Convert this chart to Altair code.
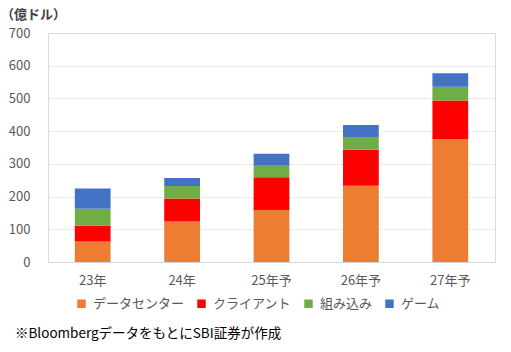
import altair as alt
import pandas as pd

years = ["23年", "24年", "25年予", "26年予", "27年予"]
segments = ["データセンター", "クライアント", "組み込み", "ゲーム"]
colors = ["#ED7D31", "#FF0000", "#70AD47", "#4472C4"]
datacenter = [63, 124, 159, 233, 376]
client = [48, 70, 100, 110, 118]
embedded = [52, 38, 35, 39, 42]
gaming = [62, 25, 37, 37, 41]
unit_label = "（億ドル）"
note = "※BloombergデータをもとにSBI証券が作成"

FONT = "Noto Sans CJK JP"

rows = []
for si, (seg, vals) in enumerate(zip(segments, [datacenter, client, embedded, gaming])):
    for y, v in zip(years, vals):
        rows.append({"year": y, "segment": seg, "value": v, "ord": si})
df = pd.DataFrame(rows)

bars = alt.Chart(df).mark_bar().encode(
    x=alt.X("year:N", sort=years, title=None,
            scale=alt.Scale(paddingInner=0.6, paddingOuter=0.3),
            axis=alt.Axis(labelAngle=0, ticks=False, labelPadding=12, domain=True,
                          domainColor="#D9D9D9", domainWidth=1, grid=False,
                          labelFontSize=13, labelColor="#595959", labelFont=FONT)),
    y=alt.Y("value:Q", stack="zero", title=None,
            scale=alt.Scale(domain=[0, 700], nice=False),
            axis=alt.Axis(values=[0, 100, 200, 300, 400, 500, 600, 700], ticks=False,
                          domain=False, labelPadding=18, grid=True, gridColor="#D9D9D9",
                          gridDash=[2, 2], labelFontSize=13, labelColor="#595959",
                          labelFont=FONT)),
    color=alt.Color("segment:N", sort=segments,
                    scale=alt.Scale(domain=segments, range=colors),
                    legend=alt.Legend(title=None, orient="none", direction="horizontal",
                                      columns=4, legendX=27, legendY=264,
                                      symbolType="square", symbolSize=72,
                                      symbolStrokeWidth=0, labelOffset=5,
                                      columnPadding=10, labelFontSize=13,
                                      labelColor="#595959", labelFont=FONT)),
    order=alt.Order("ord:Q", sort="ascending"),
)

unit = alt.Chart(pd.DataFrame({"t": [unit_label]})).mark_text(
    align="left", baseline="middle", fontSize=13, fontWeight="bold",
    color="#404040", font=FONT
).encode(x=alt.value(-47), y=alt.value(-18), text="t:N")

foot = alt.Chart(pd.DataFrame({"t": [note]})).mark_text(
    align="left", baseline="middle", fontSize=13.5, color="#000000", font=FONT
).encode(x=alt.value(-33), y=alt.value(301), text="t:N")

chart = alt.layer(bars, unit, foot).properties(
    width=447, height=229,
    autosize=alt.AutoSizeParams(type="none"),
    padding={"left": 48, "top": 33, "right": 16, "bottom": 90},
).configure_view(stroke=None).configure(background="white")

chart.save("out.html", embed_options={"renderer": "svg", "actions": False})
